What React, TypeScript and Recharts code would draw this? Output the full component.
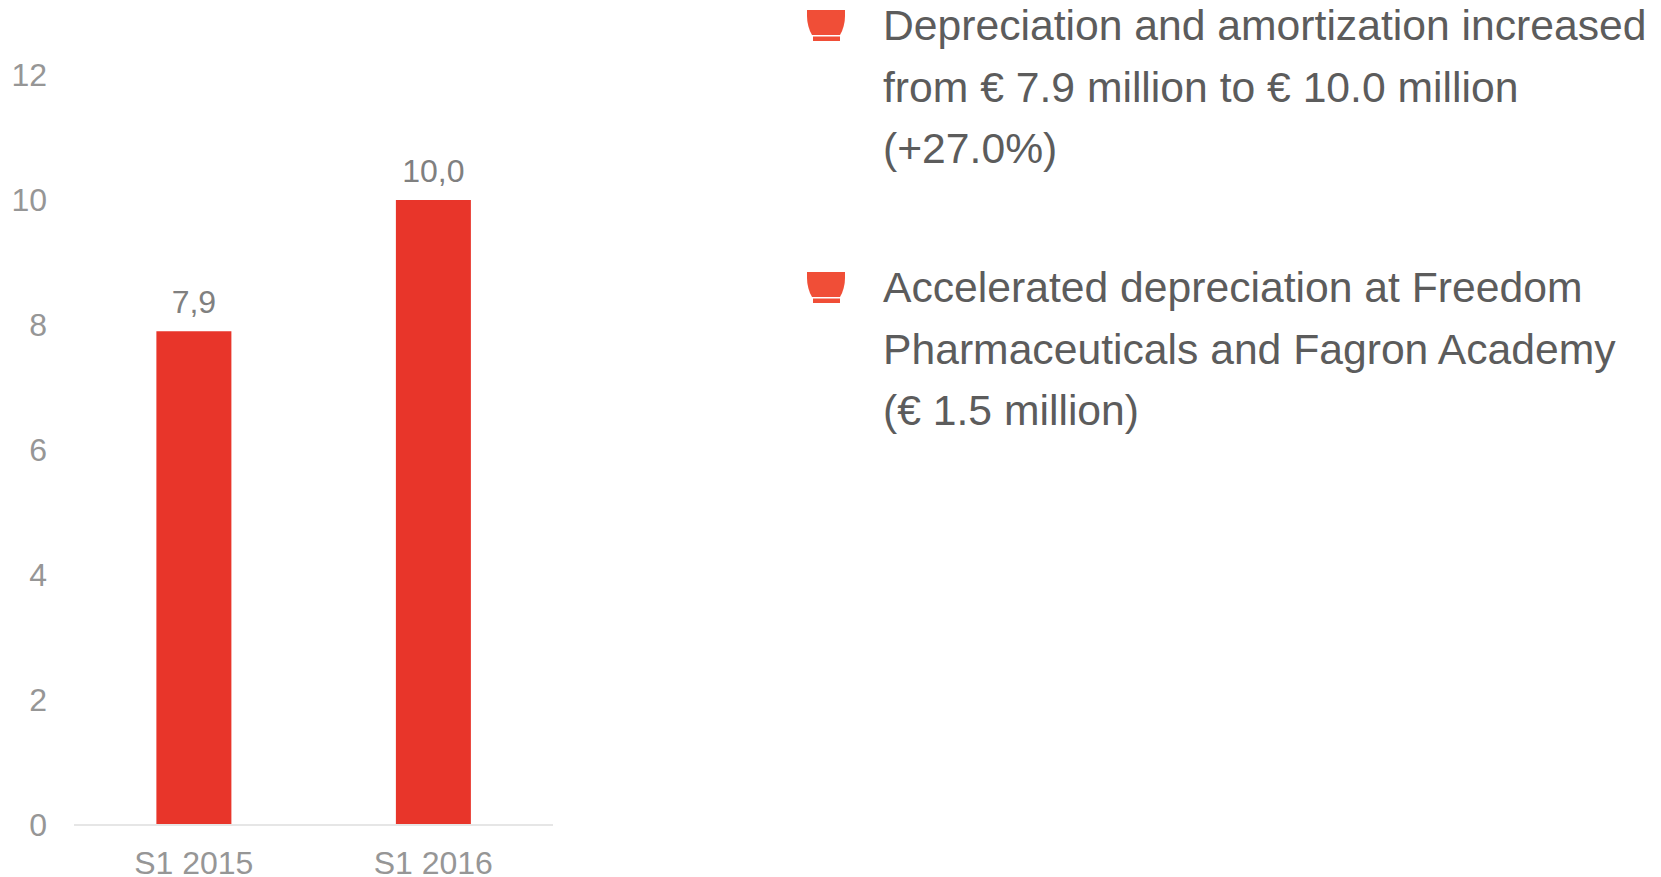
import React from "react";
import { BarChart, Bar, XAxis, YAxis, LabelList } from "recharts";

const periods = ["S1 2015", "S1 2016"];
const depreciation = [7.9, 10.0];
const yTicks = [0, 2, 4, 6, 8, 10, 12];

const notes = [
  ["Depreciation and amortization increased", "from € 7.9 million to € 10.0 million", "(+27.0%)"],
  ["Accelerated depreciation at Freedom", "Pharmaceuticals and Fagron Academy", "(€ 1.5 million)"],
];

const chartData = periods.map((period, i) => ({ period, value: depreciation[i] }));
const FONT = '"Liberation Sans", Arial, sans-serif';

// cup-shaped bullet used in front of each note
const Bullet = ({ top }: { top: number }) => (
  <svg width={38} height={31} style={{ position: "absolute", left: 807, top }}>
    <path d="M0 0H38V6C38 13 36 20 33 25H5C2 20 0 13 0 6Z" fill="#f04e37" />
    <rect x={6} y={26.5} width={27} height={4.5} fill="#f04e37" />
  </svg>
);

const App = () => (
  <div style={{ position: "absolute", left: 0, top: 0, width: 1661, height: 877, background: "#fff", overflow: "hidden" }}>
    <BarChart
      width={600}
      height={877}
      data={chartData}
      margin={{ top: 75, right: 47, bottom: 0, left: 0 }}
      barCategoryGap="34.4%"
      style={{ position: "absolute", left: 0, top: 0 }}
    >
      <XAxis
        dataKey="period"
        height={52}
        tickLine={false}
        axisLine={{ stroke: "#e6e6e6", strokeWidth: 2 }}
        tick={{ fill: "#969696", fontSize: 32, fontFamily: FONT }}
        tickMargin={20}
      />
      <YAxis
        width={74}
        domain={[0, 12]}
        ticks={yTicks}
        interval={0}
        tickLine={false}
        axisLine={false}
        tick={{ fill: "#969696", fontSize: 32, fontFamily: FONT }}
        tickMargin={21}
      />
      <Bar dataKey="value" fill="#e8352a" isAnimationActive={false}>
        <LabelList
          dataKey="value"
          position="top"
          offset={18}
          formatter={(v: number) => v.toFixed(1).replace(".", ",")}
          style={{ fill: "#808080", fontSize: 32, fontFamily: FONT }}
        />
      </Bar>
    </BarChart>

    <Bullet top={10} />
    <Bullet top={272} />
    {notes.map((lines, n) => (
      <div
        key={n}
        style={{
          position: "absolute",
          left: 883,
          top: n === 0 ? -5 : 257,
          fontFamily: FONT,
          fontSize: 42.67,
          lineHeight: "61.6px",
          color: "#5c5c5c",
          whiteSpace: "nowrap",
        }}
      >
        {lines.map((line) => (
          <div key={line}>{line}</div>
        ))}
      </div>
    ))}
  </div>
);

export default App;
